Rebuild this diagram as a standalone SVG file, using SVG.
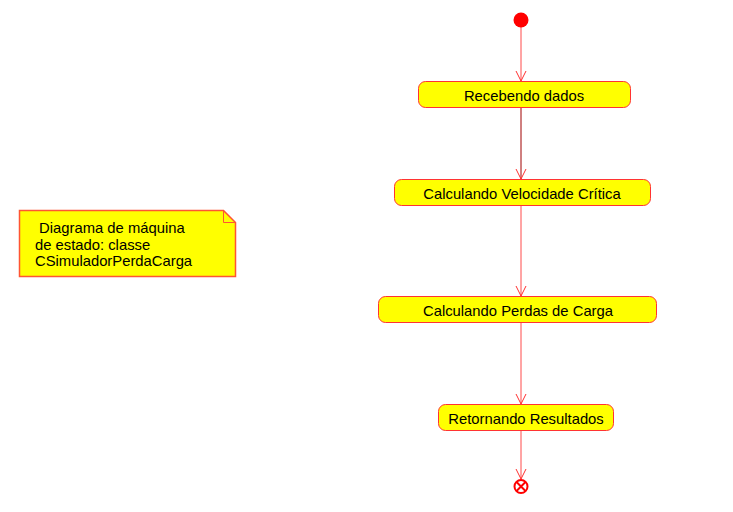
<svg xmlns="http://www.w3.org/2000/svg" width="733" height="512" viewBox="0 0 733 512">
<style>
.state{fill:#ffff00;stroke:#ff3333;stroke-width:1}
.lbl{font-family:"Liberation Sans",Arial,sans-serif;font-size:14.8px;fill:#000;text-anchor:middle}
.note{font-family:"Liberation Sans",Arial,sans-serif;font-size:14.8px;fill:#000}
.conn{stroke:#ff4a4a;stroke-width:1;fill:none}
</style>
<defs>
<marker id="arr" viewBox="0 0 12 12" refX="11" refY="6" markerWidth="12" markerHeight="12" markerUnits="userSpaceOnUse" orient="auto">
<path d="M1,1 L11,6 L1,11" fill="none" stroke="#ff3030" stroke-width="1"/>
</marker>
</defs>
<rect width="733" height="512" fill="#fff"/>
<g id="connectors">
<line class="conn" x1="521" y1="27" x2="521" y2="81" marker-end="url(#arr)"/>
<line class="conn" x1="521" y1="108" x2="521" y2="179" style="stroke:#a00000" marker-end="url(#arr)"/>
<line class="conn" x1="521" y1="206" x2="521" y2="296" marker-end="url(#arr)"/>
<line class="conn" x1="521" y1="323" x2="521" y2="404" marker-end="url(#arr)"/>
<line class="conn" x1="521" y1="431" x2="521" y2="479" marker-end="url(#arr)"/>
</g>
<g id="initial">
<circle cx="521" cy="20" r="7.5" fill="#ff0000"/>
</g>
<g id="recebendo">
<rect class="state" x="418.5" y="81.5" width="212" height="26" rx="7"/>
<text class="lbl" x="524" y="100.5">Recebendo dados</text>
</g>
<g id="velocidade">
<rect class="state" x="394.5" y="179.5" width="256" height="26" rx="7"/>
<text class="lbl" x="522" y="198.5">Calculando Velocidade Crítica</text>
</g>
<g id="perdas">
<rect class="state" x="378.5" y="296.5" width="278" height="26" rx="7"/>
<text class="lbl" x="518" y="315.5">Calculando Perdas de Carga</text>
</g>
<g id="retornando">
<rect class="state" x="438.5" y="404.5" width="175" height="26" rx="7"/>
<text class="lbl" x="526" y="423.5">Retornando Resultados</text>
</g>
<g id="final">
<circle cx="521" cy="486.5" r="6.5" fill="#fff" stroke="#ff0000" stroke-width="2"/>
<path d="M516.5,482 L525.5,491 M525.5,482 L516.5,491" stroke="#ff0000" stroke-width="2"/>
</g>
<g id="note">
<path d="M19.5,210.5 H223.5 L235.5,222.5 V276.5 H19.5 Z" fill="#ffff00" stroke="#ff5533" stroke-width="1.5"/>
<path d="M223.5,210.5 L223.5,222.5 L235.5,222.5" fill="none" stroke="#ff5533" stroke-width="1"/>
<text class="note" x="35" y="233" xml:space="preserve"> Diagrama de máquina</text>
<text class="note" x="35" y="249.5">de estado: classe</text>
<text class="note" x="35" y="266">CSimuladorPerdaCarga</text>
</g>
</svg>
